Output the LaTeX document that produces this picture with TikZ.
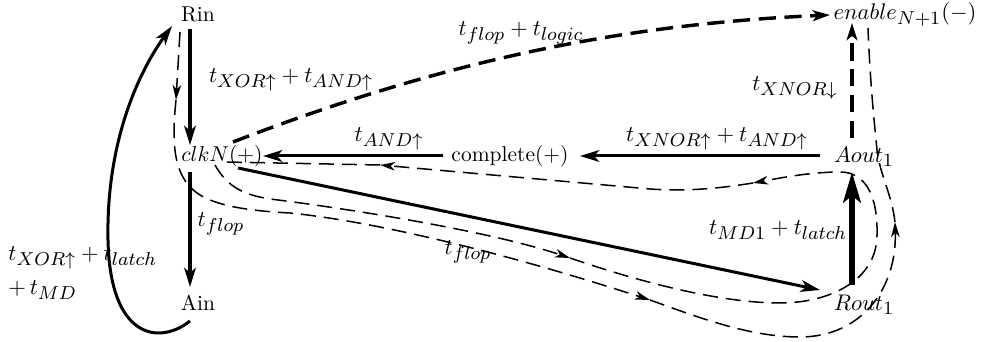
\RequirePackage{fix-cm}
\documentclass[tikz,border=0pt]{standalone}
\DeclareMathSizes{10}{10}{8.2}{6}
\DeclareMathSizes{10.5}{10.5}{8.7}{6.3}
\usetikzlibrary{arrows.meta}
\begin{document}
\begin{tikzpicture}[x=0.465pt,y=-0.465pt,
  lbl/.style={inner sep=0pt},
  mlbl/.style={inner sep=0pt,font=\fontsize{10.5}{12.5}\selectfont},
  sarr/.style={line width=1.4pt,-{Stealth[length=9pt,width=5.5pt,inset=2.5pt]}},
  bigarr/.style={line width=3.2pt,-{Stealth[length=14pt,width=8pt,inset=3pt]}},
  tdash/.style={line width=1.6pt,dash pattern=on 8pt off 4pt,-{Stealth[length=8pt,width=5pt,inset=2pt]}},
  fdash/.style={line width=0.7pt,dash pattern=on 7pt off 3.7pt},
  farr/.style={fdash,-{Stealth[length=7pt,width=4pt,inset=2pt]}}]
\useasboundingbox (0,0) rectangle (984,342);

% nodes
\node[lbl] (Rin) at (198,14) {Rin};
\node[lbl] (clk) at (222,156) {$clkN(+)$};
\node[lbl] (Ain) at (198,303) {Ain};
\node[lbl] (comp) at (510,156) {complete$(+)$};
\node[mlbl] (Aout) at (864,157) {$Aout_1$};
\node[mlbl] (en) at (905,15) {$enable_{N+1}(-)$};
\node[mlbl] (Rout) at (864,305) {$Rout_1$};

% connector end points
\coordinate (rinS) at (190,29);
\coordinate (clkN) at (190,145);
\coordinate (clkS) at (190,172);
\coordinate (ainN) at (190,287);
\coordinate (ainS) at (190,321);
\coordinate (rinW) at (172,26);
\coordinate (aoutW) at (820,156);
\coordinate (compE) at (580,156);
\coordinate (compW) at (443,156);
\coordinate (clkE) at (263,156);
\coordinate (clkSE) at (238,168);
\coordinate (routW) at (820,290);
\coordinate (routN) at (852,285);
\coordinate (aoutS) at (852,172);
\coordinate (aoutN) at (852,138);
\coordinate (enS) at (852,23);
\coordinate (clkNE) at (233,142);
\coordinate (enW) at (830,15);

% solid connectors
\draw[sarr] (rinS) -- (clkN);
\draw[sarr] (clkS) -- (ainN);
\draw[sarr] (ainS) .. controls (160,345) and (110,340) .. (108,240)
               .. controls (106,140) and (140,70) .. (rinW);
\draw[sarr] (aoutW) -- (compE);
\draw[sarr] (compW) -- (clkE);
\draw[sarr] (clkSE) -- (routW);
\draw[bigarr] (routN) -- (aoutS);
\draw[tdash] (aoutN) -- (enS);
\draw[tdash] (clkNE) .. controls (420,70) and (600,25) .. (enW);

% labels
\node[mlbl] at (291,80) {$t_{XOR\uparrow}+t_{AND\uparrow}$};
\node[mlbl] at (221,224) {$t_{flop}$};
\node[mlbl,anchor=west,align=left] at (8,273) {$t_{XOR\uparrow}+t_{latch}$\\[3pt]$+\,t_{MD}$};
\node[mlbl] at (521,33) {$t_{flop}+t_{logic}$};
\node[mlbl] at (389,139) {$t_{AND\uparrow}$};
\node[mlbl] at (717,139) {$t_{XNOR\uparrow}+t_{AND\uparrow}$};
\node[mlbl] at (468,252) {$t_{flop}$};
\node[mlbl] at (778,230) {$t_{MD1}+t_{latch}$};
\node[mlbl] at (795,88) {$t_{XNOR\downarrow}$};

% outer dashed path: Rin -> clkN -> ... -> enable
\draw[farr] (180,32) -- (176,100);
\draw[farr] (176,100) .. controls (172,140) and (172,175) .. (197,193)
                      .. controls (215,206) and (250,211) .. (290,213)
                      .. controls (360,220) and (480,245) .. (650,300);
\draw[farr] (650,300) .. controls (700,318) and (750,337) .. (800,337)
                      .. controls (860,337) and (897,290) .. (895,222);
\draw[fdash] (895,222) .. controls (892,195) and (880,175) .. (877,150)
                       .. controls (874,120) and (870,80) .. (868,28);

% inner dashed loop: clkN -> Rout -> Aout -> complete -> clkN
\draw[farr] (215,165) .. controls (228,188) and (245,195) .. (270,199)
                      .. controls (320,205) and (480,228) .. (570,258);
\draw[farr] (570,258) .. controls (640,282) and (720,303) .. (780,303)
                      .. controls (830,303) and (877,280) .. (877,235)
                      .. controls (878,195) and (865,172) .. (840,172)
                      .. controls (810,172) and (780,178) .. (753,183);
\draw[farr] (753,183) .. controls (710,190) and (680,191) .. (650,189) -- (380,165);
\draw[fdash] (380,165) -- (225,162);
\end{tikzpicture}
\end{document}
